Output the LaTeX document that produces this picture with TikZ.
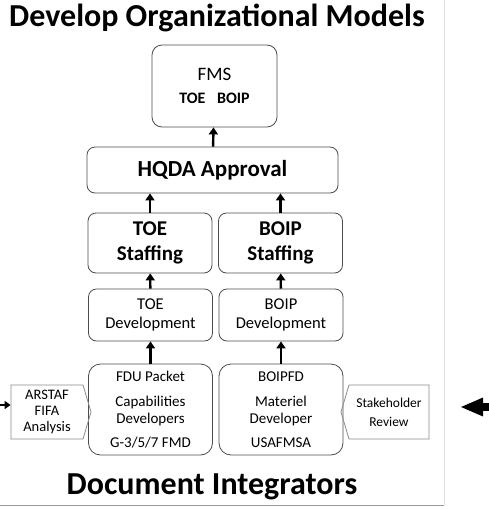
\documentclass[tikz,border=0pt]{standalone}
\usepackage{fontspec}
\setmainfont{Carlito}
\usetikzlibrary{arrows.meta,positioning,shapes.symbols}

\begin{document}
\begin{tikzpicture}[x=1pt,y=-1pt,>=Stealth,
  box/.style={draw=black!70,line width=0.8pt,rounded corners=8pt,align=center,
    inner sep=0pt,text=black,minimum width=124pt},
  tag/.style={draw=black!45,line width=0.8pt,signal,align=center,inner sep=0pt,
    minimum height=54pt,text=black,font=\fontsize{14.5}{16}\selectfont},
  up/.style={-{Triangle[width=9pt,length=7pt]},line width=2.4pt,black},
  head/.style={font=\fontsize{32}{36}\selectfont\bfseries,text=black}]
  \useasboundingbox (0,0) rectangle (488,509);
  % slide edges
  \draw[black!12,line width=0.8pt] (444,0) -- (444,505);
  \draw[black!40,line width=1pt] (0,505) -- (444,505);

  \node[head] (top) at (217,18) {Develop Organizational Models};
  \node[head] (bottom) at (212,487) {Document Integrators};

  % approval chain
  \node[box,rounded corners=10pt,minimum width=125pt,minimum height=82pt,
    font=\fontsize{19}{22}\selectfont] (fms) at (214.5,86)
    {FMS\\[1pt]\fontsize{16}{19}\selectfont\bfseries TOE\enspace\ BOIP};
  \node[box,minimum width=251pt,minimum height=46pt,font=\fontsize{23}{27}\selectfont\bfseries] (hqda) at (212.5,170) {HQDA Approval};
  \node[box,minimum height=60pt,font=\fontsize{21}{25}\selectfont\bfseries] (toeStaff) at (150,243) {TOE\\Staffing};
  \node[box,minimum height=60pt,font=\fontsize{21}{25}\selectfont\bfseries] (boipStaff) at (280.5,243) {BOIP\\Staffing};
  \node[box,minimum height=52pt,font=\fontsize{16.5}{19}\selectfont] (toeDev) at (150.5,315) {TOE\\Development};
  \node[box,minimum height=52pt,font=\fontsize{16.5}{19}\selectfont] (boipDev) at (281,315) {BOIP\\Development};
  \node[box,rounded corners=12pt,minimum height=91pt,font=\fontsize{15}{17}\selectfont] (fdu) at (150.5,409.5)
    {FDU Packet\\[8pt]Capabilities\\Developers\\[7pt]G-3/5/7 FMD};
  \node[box,rounded corners=12pt,minimum height=91pt,font=\fontsize{15}{17}\selectfont] (boipfd) at (281,409.5)
    {BOIPFD\\[8pt]Materiel\\Developer\\[7pt]USAFMSA};

  % side inputs
  \node[tag,signal to=east,signal pointer angle=147,minimum width=80pt] (arstaf) at (47,412)
    {ARSTAF\\FIFA\\Analysis};
  \node[tag,signal to=west,signal pointer angle=147,minimum width=88pt,
    font=\fontsize{13.5}{19}\selectfont] (stake) at (389,412) {Stakeholder\\Review};

  \draw[up] (hqda) -- (fms);
  \draw[up] (toeStaff) -- (toeStaff |- hqda.south);
  \draw[up] (boipStaff) -- (boipStaff |- hqda.south);
  \draw[up] (toeDev) -- (toeStaff);
  \draw[up] (boipDev) -- (boipStaff);
  \draw[up] (fdu) -- (toeDev);
  \draw[up] (boipfd) -- (boipDev);

  \coordinate (lin) at (-6,405);
  \draw[-{Triangle[width=8pt,length=6pt]},line width=2pt] (lin) -- (lin -| arstaf.west);
  \coordinate (rin) at (492,407);
  \coordinate (rtip) at (460,407);
  \draw[-{Triangle[width=17pt,length=23pt]},line width=8pt] (rin) -- (rtip);
\end{tikzpicture}
\end{document}
